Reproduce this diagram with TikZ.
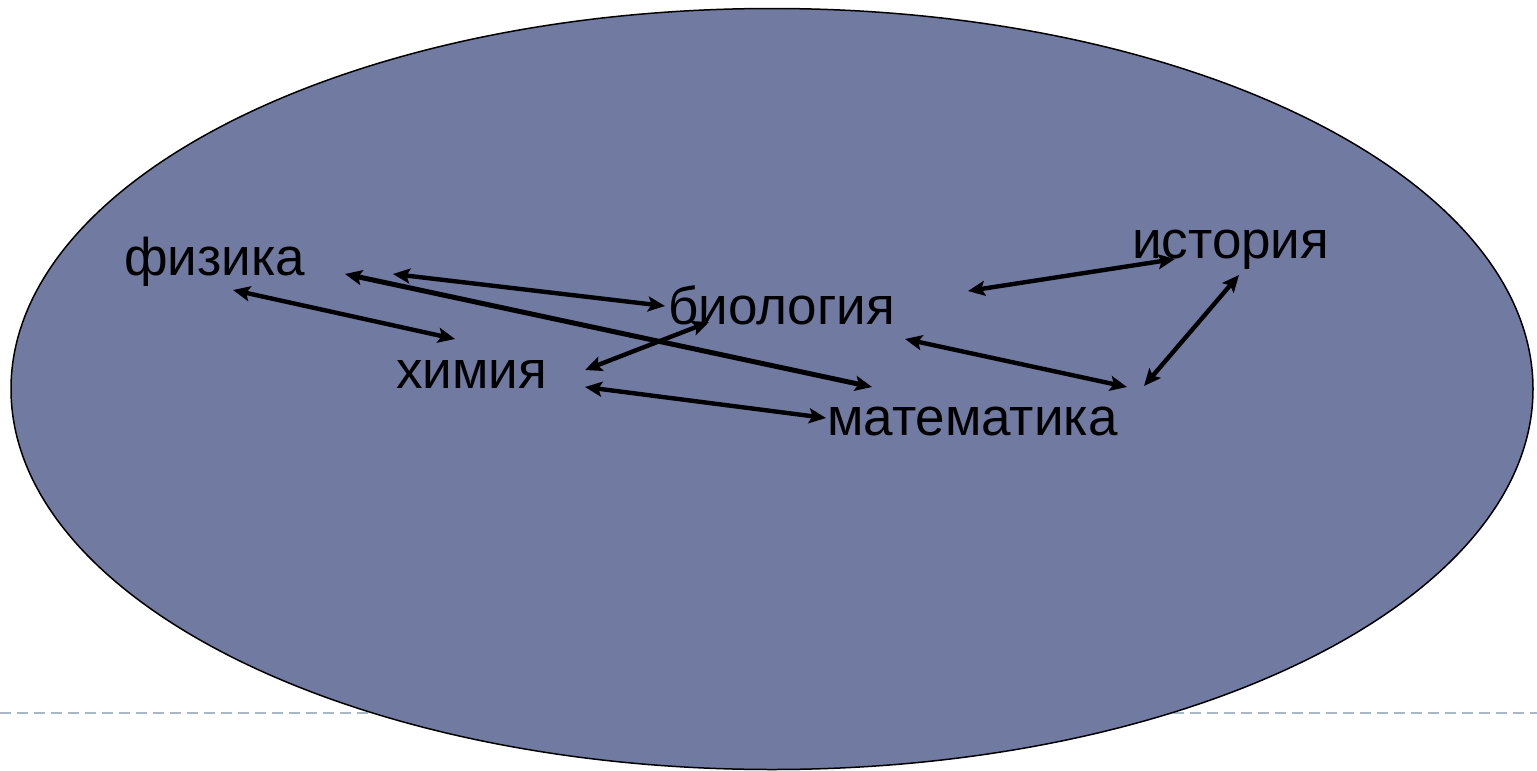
\documentclass[tikz,border=0pt]{standalone}
\usepackage{fontspec}
\setmainfont{Liberation Sans}
\usetikzlibrary{arrows.meta}
\definecolor{ellfill}{HTML}{717BA1}
\definecolor{dashcol}{HTML}{A9B8C9}
\begin{document}
\begin{tikzpicture}[x=1pt,y=-1pt,
  word/.style={inner sep=0pt,anchor=base west,font=\fontsize{53}{60}\selectfont},
  link/.style={line width=4.4pt,{Stealth[length=17pt,width=15pt,inset=3.5pt]}-{Stealth[length=17pt,width=15pt,inset=3.5pt]}}]
\useasboundingbox (0,0) rectangle (1537,771);
\draw[dashcol,line width=1.8pt,dash pattern=on 11pt off 6pt] (0,713) -- (1537,713);
\draw[fill=ellfill,line width=1.5pt] (772,389) ellipse [x radius=761,y radius=380.5];
\node[word] (fiz) at (124,275) {физика};
\node[word] (bio) at (668,324) {биология};
\node[word] (him) at (396,388) {химия};
\node[word] (mat) at (827,435) {математика};
\node[word] (ist) at (1132,258) {история};
\coordinate (fa) at (233,290);
\coordinate (ha) at (455,339);
\coordinate (fb) at (345,274);
\coordinate (ma) at (872,387);
\coordinate (fc) at (393,274);
\coordinate (ba) at (665,306);
\coordinate (hb) at (585,370);
\coordinate (bb) at (709,322);
\coordinate (hc) at (585,387);
\coordinate (mb) at (826,418);
\coordinate (bc) at (968,291);
\coordinate (ia) at (1175,259);
\coordinate (bd) at (905,339);
\coordinate (mc) at (1127,387);
\coordinate (md) at (1144,386);
\coordinate (ib) at (1239,275);
\draw[link] (fa) -- (ha);
\draw[link,line width=5pt] (fb) -- (ma);
\draw[link] (fc) -- (ba);
\draw[link] (hb) -- (bb);
\draw[link] (hc) -- (mb);
\draw[link] (bc) -- (ia);
\draw[link] (bd) -- (mc);
\draw[link] (md) -- (ib);
\end{tikzpicture}
\end{document}
